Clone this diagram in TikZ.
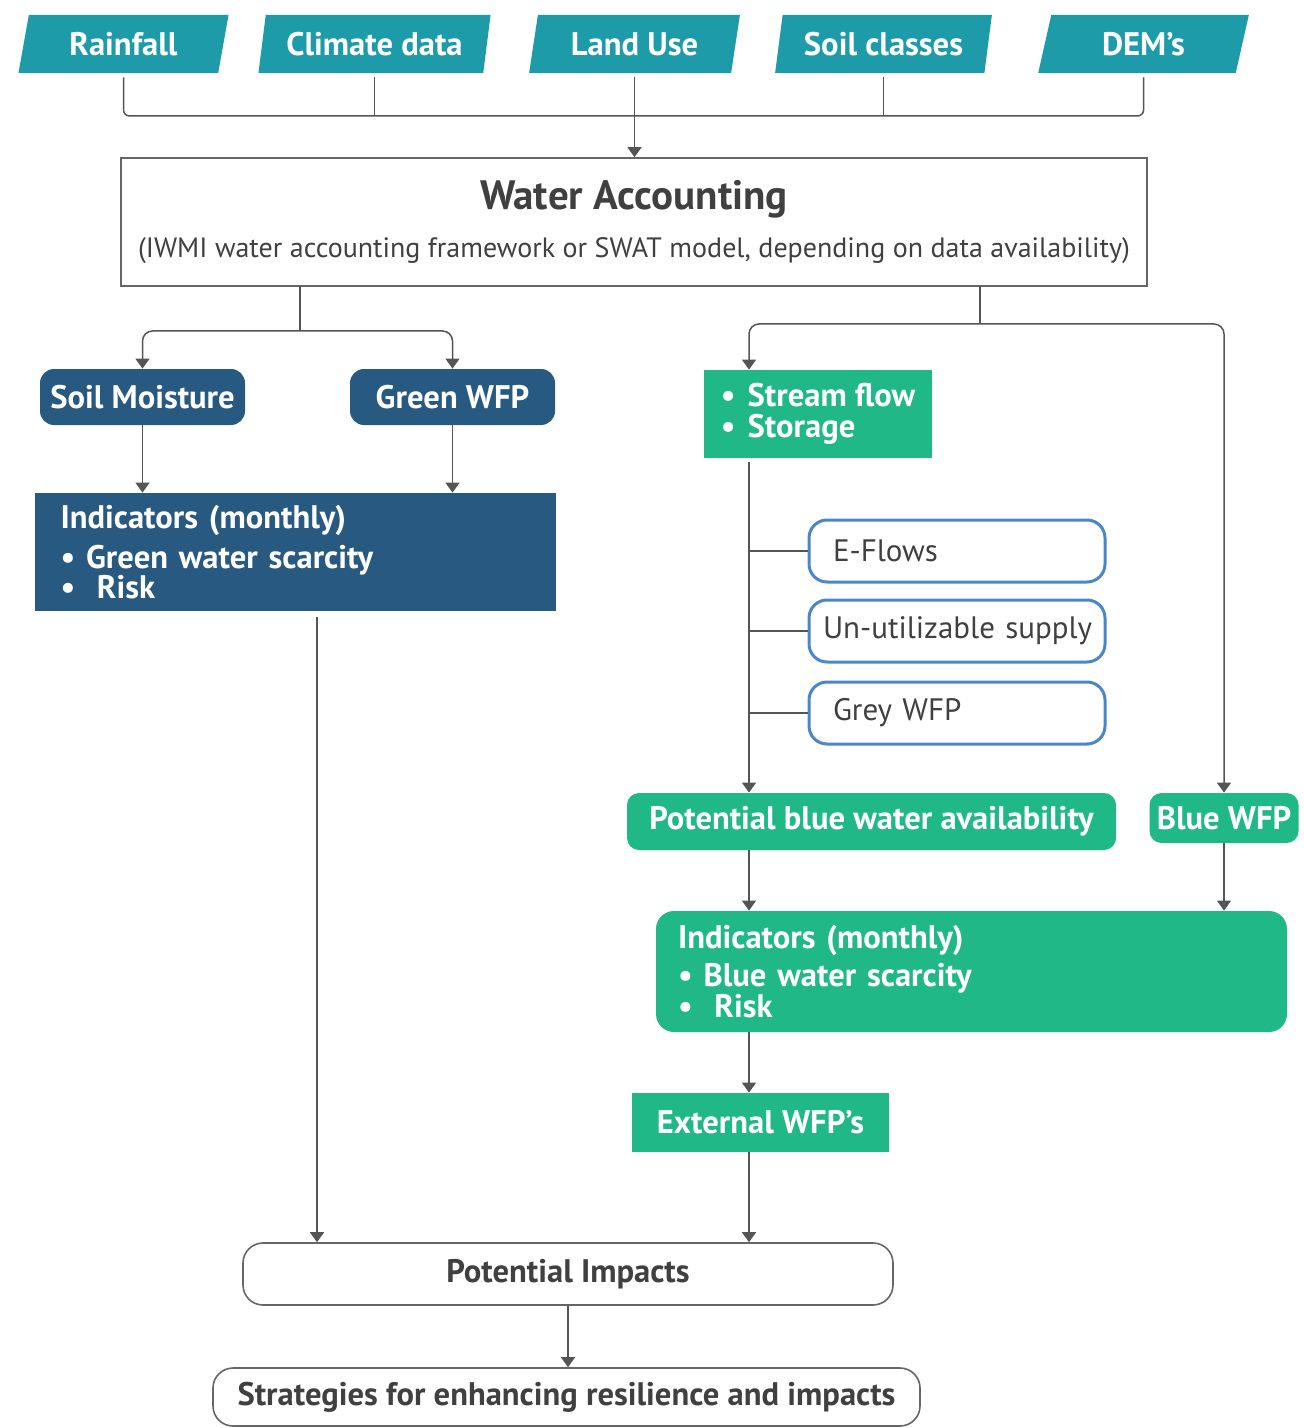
\documentclass[tikz,border=0pt]{standalone}
\usepackage{fontspec}
\setmainfont{PT Sans}
\usetikzlibrary{positioning,arrows.meta,shapes.geometric}
\definecolor{inputteal}{RGB}{30,155,168}
\definecolor{greenblue}{RGB}{40,89,128}
\definecolor{bluegreen}{RGB}{32,184,135}
\definecolor{frameblue}{RGB}{74,134,200}
\definecolor{wiregray}{RGB}{85,85,85}
\definecolor{textgray}{RGB}{64,64,64}

\begin{document}
\begin{tikzpicture}[x=0.5pt,y=-0.5pt,
    wh/.style 2 args={minimum width=#1*0.5pt,minimum height=#2*0.5pt},
    source/.style={trapezium,trapezium left angle=76,trapezium right angle=104,trapezium stretches=true,fill=inputteal,text=white,inner sep=0pt,font=\fontsize{16.3}{18}\selectfont\bfseries},
    frame/.style={draw=wiregray!90,line width=0.8pt,fill=white,align=center,text=textgray,inner sep=0pt},
    darkbox/.style={fill=greenblue,text=white,rounded corners=7pt,inner sep=0pt,font=\fontsize{16.3}{18}\selectfont\bfseries},
    darkpanel/.style={fill=greenblue,text=white,inner sep=0pt,align=left,font=\fontsize{16.3}{15}\selectfont\bfseries},
    greenbox/.style={fill=bluegreen,text=white,rounded corners=6pt,inner sep=0pt,font=\fontsize{16.3}{18}\selectfont\bfseries},
    greenpanel/.style={fill=bluegreen,text=white,inner sep=0pt,align=left,font=\fontsize{16.3}{15.5}\selectfont\bfseries},
    option/.style={draw=frameblue,line width=1.5pt,fill=white,rounded corners=9pt,text=textgray,align=left,inner xsep=12pt,inner ysep=0pt,text width=124pt,font=\fontsize{15.5}{18}\selectfont},
    endbox/.style={draw=wiregray!90,line width=0.8pt,fill=white,rounded corners=10pt,text=textgray,inner sep=0pt,font=\fontsize{16.3}{18}\selectfont\bfseries},
    wire/.style={draw=wiregray,line width=0.75pt},
    arr/.style={wire,-{Triangle[width=7pt,length=5pt]}}]
  \useasboundingbox[fill=white] (0,0) rectangle (1304,1428);
  % data inputs
  \node[source,wh={211}{58}] (rain) at (123.5,44) {Rainfall};
  \node[source,wh={233}{58}] (clim) at (374.5,44) {Climate data};
  \node[source,wh={211}{58}] (land) at (634.5,44) {Land Use};
  \node[source,wh={217}{58}] (soil) at (883.5,44) {Soil classes};
  \node[source,wh={211}{58}] (dem) at (1143.5,44) {DEM’s};
  \node[frame,wh={1026}{128}] (acc) at (634,222) {{\fontsize{20.5}{22}\selectfont\bfseries Water Accounting}\\[9pt]
    {\fontsize{14}{18}\selectfont (IWMI water accounting framework or SWAT model, depending on data availability)}};
  % green water side
  \node[darkbox,wh={205}{56}] (soilm) at (142.5,397) {Soil Moisture};
  \node[darkbox,wh={205}{56}] (gwfp) at (452.5,397) {Green WFP};
  \node[darkpanel,wh={521}{118},text width=235pt] (indG) at (295.5,552) {Indicators (monthly)\\[3.5pt]
    \textbullet\ Green water scarcity\\ \textbullet\ \ Risk};
  % blue water side
  \node[greenpanel,wh={228}{88}] (flow) at (818,414) {\textbullet\hspace{6pt}Stream flow\\ \textbullet\hspace{6pt}Storage};
  \node[option,wh={296}{62}] (eflow) at (957,551) {E-Flows};
  \node[option,wh={296}{62},inner xsep=7pt,text width=134pt] (unutil) at (957,631) {\mbox{Un-utilizable supply}};
  \node[option,wh={296}{62}] (grey) at (957,713) {Grey WFP};
  \node[greenbox,wh={489}{57}] (pbw) at (871.5,821.5) {Potential blue water availability};
  \node[greenbox,wh={149}{50}] (bwfp) at (1224,818) {Blue WFP};
  \node[greenpanel,rounded corners=9pt,wh={631}{121},text width=293.5pt] (indB) at (971.5,971.5) {Indicators (monthly)\\[3.5pt]
    \textbullet\ Blue water scarcity\\ \textbullet\ \ Risk};
  \node[greenpanel,wh={257}{59}] (ext) at (760.5,1122.5) {External WFP’s};
  % outcomes
  \node[endbox,wh={650}{62}] (imp) at (568,1274) {Potential Impacts};
  \node[endbox,wh={707}{58}] (strat) at (566.5,1397) {Strategies for enhancing resilience and impacts};

  % connectors
  \coordinate (bus) at (634,116);
  \draw[wire,rounded corners=3pt,shorten <=2pt,shorten >=2pt] (rain.south) |- (bus -| dem.south) -- (dem.south);
  \foreach \s in {clim,soil}{\draw[wire,shorten <=2pt] (\s.south) -- (\s.south |- bus);}
  \draw[arr,shorten <=2pt] (land.south) -- (land.south |- acc.north);
  \coordinate (accL) at (300,286);
  \coordinate (splitL) at (300,331);
  \draw[wire] (accL) -- (splitL);
  \foreach \a in {soilm,gwfp}{\draw[arr,rounded corners=5pt] (splitL) -| (\a.north);}
  \foreach \a in {soilm,gwfp}{\draw[arr] (\a.south) -- (\a.south |- indG.north);}
  \coordinate (accR) at (980,286);
  \coordinate (splitR) at (980,324);
  \coordinate (trunk) at (749,462);
  \draw[wire] (accR) -- (splitR);
  \draw[arr,rounded corners=5pt] (splitR) -| (flow.north -| trunk);
  \draw[arr,rounded corners=5pt] (splitR) -| (bwfp.north);
  \draw[arr] (trunk) -- (trunk |- pbw.north);
  \foreach \o in {eflow,unutil,grey}{\draw[wire] (\o.west) -- (\o.west -| trunk);}
  \draw[arr] (pbw.south -| trunk) -- (trunk |- indB.north);
  \draw[arr] (bwfp.south) -- (bwfp.south |- indB.north);
  \draw[arr] (indB.south -| trunk) -- (trunk |- ext.north);
  \draw[arr] (ext.south -| trunk) -- (trunk |- imp.north);
  \coordinate (leftdrop) at (317,617);
  \draw[arr] (leftdrop) -- (leftdrop |- imp.north);
  \draw[arr] (imp.south) -- (imp.south |- strat.north);
\end{tikzpicture}
\end{document}
